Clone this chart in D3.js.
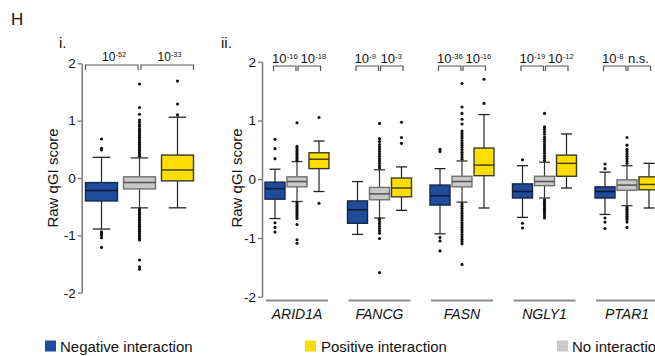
<!DOCTYPE html>
<html><head><meta charset="utf-8">
<script src="https://cdn.jsdelivr.net/npm/d3@7"></script>
<style>
html,body{margin:0;padding:0;background:#fff;overflow:hidden;}
svg{display:block;font-family:"Liberation Sans",Arial,Helvetica,sans-serif;}
</style></head>
<body><svg id="chart" width="655" height="356"></svg>
<script>
// ---------- DATA ----------
const categories = ["Negative interaction", "No interaction", "Positive interaction"];
const yTicks = [-2, -1, 0, 1, 2];

// Panel i: stats as [lowerWhisker, q1, median, q3, upperWhisker]
const panel1Stats = [
  [-0.89, -0.40, -0.22, -0.08, 0.36],
  [-0.52, -0.19, -0.08, 0.02, 0.35],
  [-0.52, -0.05, 0.14, 0.40, 1.06]
];
const panel1Outliers = [
  [0.68, 0.52, 0.49, -0.94, -0.97, -1.00, -1.04, -1.21],
  [1.64, 1.23, 1.11, 1.01, 0.97, 0.93, 0.90, 0.86, 0.83, 0.80, 0.77, 0.74, 0.71, 0.68, 0.65, 0.62, 0.59, 0.56, 0.53, 0.50, 0.47, 0.44, 0.41, 0.38,
   -0.54, -0.57, -0.60, -0.63, -0.66, -0.69, -0.72, -0.75, -0.78, -0.81, -0.84, -0.87, -0.90, -0.93, -0.96, -0.99, -1.02, -1.05, -1.08, -1.43, -1.55, -1.59],
  [1.10, 1.29, 1.69]
];
const panel1P = ["-52", "-33"];

// Panel ii
const genes = ["ARID1A", "FANCG", "FASN", "NGLY1", "PTAR1"];
const negStats = [
  [-0.67, -0.34, -0.16, -0.05, 0.17],
  [-0.94, -0.75, -0.52, -0.37, -0.04],
  [-0.93, -0.44, -0.28, -0.10, 0.18],
  [-0.65, -0.32, -0.21, -0.08, 0.23],
  [-0.60, -0.32, -0.21, -0.13, 0.12]
];
const noneStats = [
  [-0.38, -0.13, -0.04, 0.04, 0.30],
  [-0.66, -0.35, -0.25, -0.14, 0.16],
  [-0.39, -0.13, -0.04, 0.05, 0.31],
  [-0.32, -0.11, -0.04, 0.05, 0.29],
  [-0.45, -0.19, -0.10, -0.01, 0.23]
];
const posStats = [
  [-0.21, 0.18, 0.34, 0.45, 0.65],
  [-0.53, -0.30, -0.15, 0.02, 0.21],
  [-0.49, 0.06, 0.24, 0.53, 1.10],
  [-0.15, 0.05, 0.27, 0.41, 0.77],
  [-0.49, -0.18, -0.09, 0.04, 0.27]
];
const negOutliers = [
  [0.68, 0.52, 0.35, -0.74, -0.82, -0.90],
  [],
  [0.51, 0.47, -0.99, -1.05, -1.22],
  [0.33, -0.75, -0.83],
  [0.26, 0.18, -0.66, -0.73, -0.84]
];
const noneOutliers = [
  [0.96, 0.56, 0.53, 0.50, 0.47, 0.44, 0.41, 0.38, 0.35, 0.32, -0.40, -0.43, -0.46, -0.49, -0.52, -0.55, -0.58, -0.61, -0.64, -0.67, -0.77, -1.03, -1.09],
  [0.95, 0.69, 0.64, 0.59, 0.55, 0.51, 0.47, 0.43, 0.39, 0.35, 0.31, 0.27, 0.23, 0.19, -0.68, -0.72, -0.76, -0.80, -0.84, -0.88, -0.92, -1.01, -1.59],
  [1.63, 1.23, 1.12, 1.02, 0.94, 0.82, 0.78, 0.74, 0.70, 0.66, 0.62, 0.58, 0.54, 0.50, 0.46, 0.42, 0.38, 0.34,
   -0.42, -0.46, -0.50, -0.54, -0.58, -0.62, -0.66, -0.70, -0.74, -0.78, -0.82, -0.86, -0.90, -0.94, -0.98, -1.02, -1.06, -1.10, -1.45],
  [1.12, 0.89, 0.85, 0.81, 0.77, 0.72, 0.68, 0.64, 0.60, 0.56, 0.52, 0.48, 0.44, 0.40, 0.36, 0.32, -0.35, -0.38, -0.41, -0.44, -0.47, -0.50, -0.53, -0.56, -0.59, -0.62, -0.66],
  [0.71, 0.58, 0.51, 0.47, 0.43, 0.39, 0.35, 0.31, 0.27, -0.48, -0.51, -0.54, -0.57, -0.60, -0.63, -0.66, -0.69, -0.73, -0.82]
];
const posOutliers = [
  [1.05, -0.41],
  [0.97, 0.71, 0.61],
  [1.29, 1.70],
  [],
  []
];
const geneP = [["-16", "-18"], ["-9", "-3"], ["-36", "-16"], ["-19", "-12"], ["-8", "n.s."]];

// ---------- STYLE ----------
const fills = ["#1f4b9b", "#c9c9c9", "#ffdd00"];
const strokes = ["#16254a", "#707070", "#3a3a2a"];
const medians = ["#0c1630", "#505050", "#4a4200"];
const whisk = ["#222", "#333", "#222"];

const svg = d3.select("#chart");

function drawBox(g, cx, bw, s, out, y, k) {
  const [lo, q1, med, q3, hi] = s;
  const cw = bw * 0.55;
  g.append("line").attr("x1", cx).attr("x2", cx).attr("y1", y(hi)).attr("y2", y(q3)).attr("stroke", whisk[k]).attr("stroke-width", 1.2);
  g.append("line").attr("x1", cx).attr("x2", cx).attr("y1", y(q1)).attr("y2", y(lo)).attr("stroke", whisk[k]).attr("stroke-width", 1.2);
  g.append("line").attr("x1", cx - cw / 2).attr("x2", cx + cw / 2).attr("y1", y(hi)).attr("y2", y(hi)).attr("stroke", whisk[k]).attr("stroke-width", 1.3);
  g.append("line").attr("x1", cx - cw / 2).attr("x2", cx + cw / 2).attr("y1", y(lo)).attr("y2", y(lo)).attr("stroke", whisk[k]).attr("stroke-width", 1.3);
  g.selectAll(null).data(out).enter().append("circle")
    .attr("cx", cx).attr("cy", d => y(d)).attr("r", 1.55).attr("fill", "#111");
  g.append("rect").attr("x", cx - bw / 2).attr("y", y(q3)).attr("width", bw).attr("height", y(q1) - y(q3))
    .attr("fill", fills[k]).attr("stroke", strokes[k]).attr("stroke-width", 1.4);
  g.append("line").attr("x1", cx - bw / 2).attr("x2", cx + bw / 2).attr("y1", y(med)).attr("y2", y(med))
    .attr("stroke", medians[k]).attr("stroke-width", 1.5);
}

// p-value text; anchor "start" or "middle"; returns right edge
function pText(g, x, yb, exp, fs, sfs, anchor) {
  const t = g.append("text").attr("x", x).attr("y", yb).attr("text-anchor", anchor).attr("fill", "#111").attr("font-size", fs);
  if (exp === "n.s.") { t.text("n.s."); }
  else {
    t.append("tspan").text("10");
    t.append("tspan").attr("dx", 0.3).attr("dy", -fs * 0.33).attr("font-size", sfs).text(exp);
  }
  const bb = t.node().getBBox();
  return bb.x + bb.width;
}

function bracket(g, x1, x2, yb) {
  g.append("path").attr("d", `M${x1},${yb + 5}V${yb}H${x2}V${yb + 5}`)
    .attr("fill", "none").attr("stroke", "#555").attr("stroke-width", 1.2);
}

function yAxis(x, y) {
  const ax = svg.append("g").attr("transform", `translate(${x},0)`)
    .call(d3.axisLeft(y).tickValues(yTicks).tickFormat(d => String(d)).tickSize(4).tickSizeOuter(0).tickPadding(2));
  ax.select(".domain").attr("stroke", "#777").attr("stroke-width", 1.5);
  ax.selectAll(".tick line").attr("stroke", "#777").attr("stroke-width", 1.3);
  ax.selectAll(".tick text").attr("font-size", 13.5).attr("fill", "#111").attr("font-family", "Liberation Sans, Arial, sans-serif");
}

function yLabel(cx, cy) {
  svg.append("text").attr("transform", `translate(${cx},${cy}) rotate(-90)`).attr("text-anchor", "middle")
    .attr("dominant-baseline", "central").attr("font-size", 15).attr("fill", "#111").text("Raw qGI score");
}

// ---------- TITLES ----------
svg.append("text").attr("x", 11).attr("y", 25).attr("font-size", 17).attr("fill", "#111").text("H");
svg.append("text").attr("x", 59).attr("y", 48).attr("font-size", 15).attr("fill", "#111").text("i.");
svg.append("text").attr("x", 221).attr("y", 48).attr("font-size", 15).attr("fill", "#111").text("ii.");

// ---------- PANEL i ----------
const y1 = d3.scaleLinear().domain([-2, 2]).range([292.7, 63.3]);
const x1 = d3.scalePoint().domain(categories).range([101.5, 177.5]);
const bw1 = 32;
yAxis(81.7, y1);
yLabel(52, 178);
const g1 = svg.append("g");
categories.forEach((c, k) => drawBox(g1, x1(c), bw1, panel1Stats[k], panel1Outliers[k], y1, k));
{
  const a = x1(categories[0]) - bw1 / 2, b = x1(categories[1]), c = x1(categories[2]) + bw1 / 2;
  bracket(g1, a, b - 1.5, 65);
  bracket(g1, b + 1.5, c, 65);
  pText(g1, (a + b) / 2 + 1.5, 60.5, panel1P[0], 12, 7, "middle");
  pText(g1, (b + c) / 2 + 3, 60.5, panel1P[1], 12, 7, "middle");
}

// ---------- PANEL ii ----------
const y2 = d3.scaleLinear().domain([-2, 2]).range([296.7, 61.7]);
const gx = d3.scalePoint().domain(genes).range([297, 627]);
const sub = d3.scalePoint().domain(categories).range([-22, 22]);
const bw2 = 20;
yAxis(262, y2);
yLabel(236, 178);
const g2 = svg.append("g");
const statsBy = [negStats, noneStats, posStats];
const outBy = [negOutliers, noneOutliers, posOutliers];
genes.forEach((gene, i) => {
  const cx = gx(gene);
  categories.forEach((c, k) => drawBox(g2, cx + sub(c), bw2, statsBy[k][i], outBy[k][i], y2, k));
  g2.append("line").attr("x1", cx - 31).attr("x2", cx + 31).attr("y1", 300.5).attr("y2", 300.5)
    .attr("stroke", "#8a8a8a").attr("stroke-width", 2);
  g2.append("text").attr("x", cx).attr("y", 319).attr("text-anchor", "middle").attr("font-size", 14)
    .attr("font-style", "italic").attr("fill", "#111").text(gene);
  const a = cx + sub(categories[0]) - 1.5, b = cx + sub(categories[1]), c = cx + sub(categories[2]) + 1.5;
  bracket(g2, a, b - 1, 66);
  bracket(g2, b + 1, c, 66);
  const end1 = pText(g2, a - 1.5, 63, geneP[i][0], 13, 7.5, "start");
  pText(g2, Math.max(b + 1, end1 + 3), 63, geneP[i][1], 13, 7.5, "start");
});

// ---------- LEGEND ----------
const legX = [45, 305, 557];
const legTX = [60, 321, 572];
const order = [0, 2, 1];
order.forEach((k, j) => {
  svg.append("rect").attr("x", legX[j]).attr("y", 340.5).attr("width", 11).attr("height", 11).attr("fill", fills[k]);
  svg.append("text").attr("x", legTX[j]).attr("y", 352).attr("font-size", 15).attr("fill", "#111").text(categories[k]);
});
</script></body></html>
